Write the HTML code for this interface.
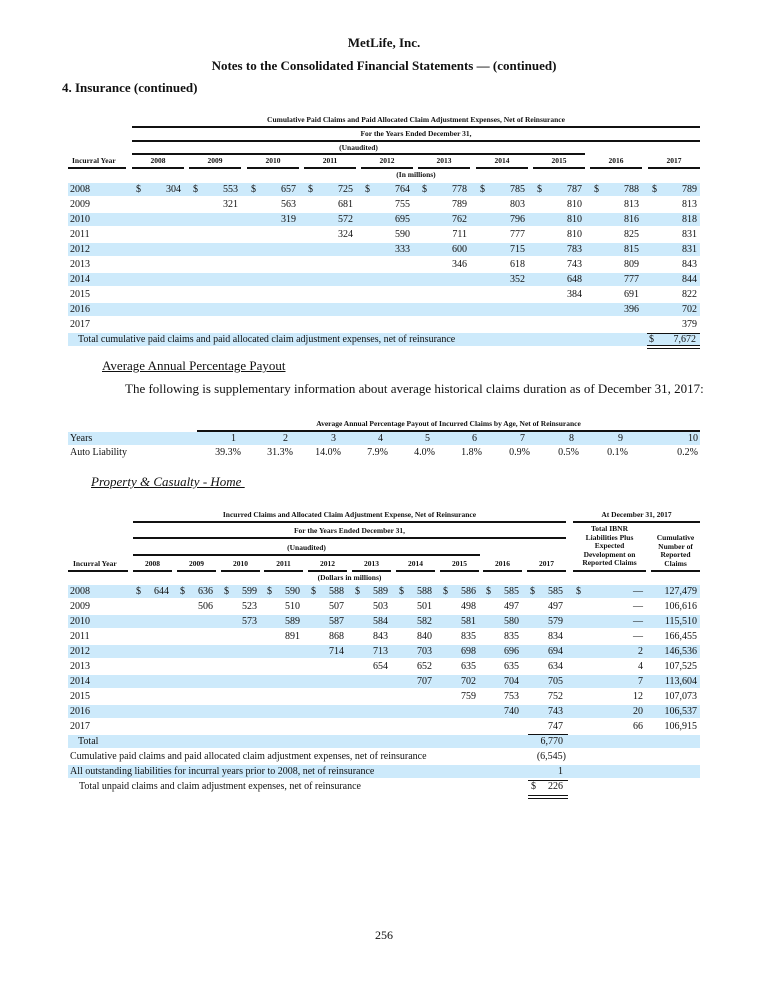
<!DOCTYPE html>
<html><head><meta charset="utf-8">
<style>
body{margin:0;background:#fff;}
#p{position:relative;width:768px;height:993px;overflow:hidden;font-family:"Liberation Serif",serif;color:#111;}
#p div{position:absolute;white-space:nowrap;}
.t{font-size:10px;line-height:14px;height:14px;}
.r{font-size:10px;line-height:14px;height:14px;text-align:right;width:60px;}
.h{font-size:7.5px;font-weight:bold;line-height:10px;}
.hc{font-size:7.5px;font-weight:bold;line-height:10px;text-align:center;}
.sh{background:#cdeafb;height:13px;}
.ln{background:#111;height:1.5px;}
.ul{background:#111;height:1px;}
</style></head><body><div id="p">

<div style="left:0;width:768px;text-align:center;top:35px;font-size:13px;font-weight:bold;">MetLife, Inc.</div>
<div style="left:0;width:768px;text-align:center;top:58px;font-size:13px;font-weight:bold;">Notes to the Consolidated Financial Statements — (continued)</div>
<div style="left:62px;top:80px;font-size:13px;font-weight:bold;">4. Insurance (continued)</div>

<!-- TABLE 1 -->
<div class="hc" style="left:132px;width:568px;top:115px;">Cumulative Paid Claims and Paid Allocated Claim Adjustment Expenses, Net of Reinsurance</div>
<div class="ln" style="left:132px;width:568px;top:126px;"></div>
<div class="hc" style="left:132px;width:568px;top:129px;">For the Years Ended December 31,</div>
<div class="ln" style="left:132px;width:568px;top:140px;"></div>
<div class="hc" style="left:132px;width:453px;top:143px;">(Unaudited)</div>
<div class="ln" style="left:132px;width:453px;top:153px;"></div>
<div class="h" style="left:72px;top:156px;">Incurral Year</div>
<div class="ln" style="left:68px;width:58px;top:167px;"></div>
<div class="hc" style="left:132px;width:52px;top:156px;">2008</div><div class="ln" style="left:132px;width:52px;top:167px;"></div>
<div class="hc" style="left:189px;width:52px;top:156px;">2009</div><div class="ln" style="left:189px;width:52px;top:167px;"></div>
<div class="hc" style="left:247px;width:52px;top:156px;">2010</div><div class="ln" style="left:247px;width:52px;top:167px;"></div>
<div class="hc" style="left:304px;width:52px;top:156px;">2011</div><div class="ln" style="left:304px;width:52px;top:167px;"></div>
<div class="hc" style="left:361px;width:52px;top:156px;">2012</div><div class="ln" style="left:361px;width:52px;top:167px;"></div>
<div class="hc" style="left:418px;width:52px;top:156px;">2013</div><div class="ln" style="left:418px;width:52px;top:167px;"></div>
<div class="hc" style="left:476px;width:52px;top:156px;">2014</div><div class="ln" style="left:476px;width:52px;top:167px;"></div>
<div class="hc" style="left:533px;width:52px;top:156px;">2015</div><div class="ln" style="left:533px;width:52px;top:167px;"></div>
<div class="hc" style="left:590px;width:52px;top:156px;">2016</div><div class="ln" style="left:590px;width:52px;top:167px;"></div>
<div class="hc" style="left:648px;width:52px;top:156px;">2017</div><div class="ln" style="left:648px;width:52px;top:167px;"></div>
<div class="hc" style="left:132px;width:568px;top:170px;">(In millions)</div>

<div class="sh" style="left:68px;width:632px;top:183px;"></div>
<div class="sh" style="left:68px;width:632px;top:213px;"></div>
<div class="sh" style="left:68px;width:632px;top:243px;"></div>
<div class="sh" style="left:68px;width:632px;top:273px;"></div>
<div class="sh" style="left:68px;width:632px;top:303px;"></div>
<div class="sh" style="left:68px;width:632px;top:333px;"></div>

<div class="t" style="left:70px;top:183px;">2008</div>
<div class="t" style="left:70px;top:198px;">2009</div>
<div class="t" style="left:70px;top:213px;">2010</div>
<div class="t" style="left:70px;top:228px;">2011</div>
<div class="t" style="left:70px;top:243px;">2012</div>
<div class="t" style="left:70px;top:258px;">2013</div>
<div class="t" style="left:70px;top:273px;">2014</div>
<div class="t" style="left:70px;top:288px;">2015</div>
<div class="t" style="left:70px;top:303px;">2016</div>
<div class="t" style="left:70px;top:318px;">2017</div>

<!-- row 2008 -->
<div class="t" style="left:136px;top:183px;">$</div><div class="r" style="left:121px;top:183px;">304</div>
<div class="t" style="left:193px;top:183px;">$</div><div class="r" style="left:178px;top:183px;">553</div>
<div class="t" style="left:251px;top:183px;">$</div><div class="r" style="left:236px;top:183px;">657</div>
<div class="t" style="left:308px;top:183px;">$</div><div class="r" style="left:293px;top:183px;">725</div>
<div class="t" style="left:365px;top:183px;">$</div><div class="r" style="left:350px;top:183px;">764</div>
<div class="t" style="left:422px;top:183px;">$</div><div class="r" style="left:407px;top:183px;">778</div>
<div class="t" style="left:480px;top:183px;">$</div><div class="r" style="left:465px;top:183px;">785</div>
<div class="t" style="left:537px;top:183px;">$</div><div class="r" style="left:522px;top:183px;">787</div>
<div class="t" style="left:594px;top:183px;">$</div><div class="r" style="left:579px;top:183px;">788</div>
<div class="t" style="left:652px;top:183px;">$</div><div class="r" style="left:637px;top:183px;">789</div>
<!-- 2009 -->
<div class="r" style="left:178px;top:198px;">321</div><div class="r" style="left:236px;top:198px;">563</div><div class="r" style="left:293px;top:198px;">681</div><div class="r" style="left:350px;top:198px;">755</div><div class="r" style="left:407px;top:198px;">789</div><div class="r" style="left:465px;top:198px;">803</div><div class="r" style="left:522px;top:198px;">810</div><div class="r" style="left:579px;top:198px;">813</div><div class="r" style="left:637px;top:198px;">813</div>
<!-- 2010 -->
<div class="r" style="left:236px;top:213px;">319</div><div class="r" style="left:293px;top:213px;">572</div><div class="r" style="left:350px;top:213px;">695</div><div class="r" style="left:407px;top:213px;">762</div><div class="r" style="left:465px;top:213px;">796</div><div class="r" style="left:522px;top:213px;">810</div><div class="r" style="left:579px;top:213px;">816</div><div class="r" style="left:637px;top:213px;">818</div>
<!-- 2011 -->
<div class="r" style="left:293px;top:228px;">324</div><div class="r" style="left:350px;top:228px;">590</div><div class="r" style="left:407px;top:228px;">711</div><div class="r" style="left:465px;top:228px;">777</div><div class="r" style="left:522px;top:228px;">810</div><div class="r" style="left:579px;top:228px;">825</div><div class="r" style="left:637px;top:228px;">831</div>
<!-- 2012 -->
<div class="r" style="left:350px;top:243px;">333</div><div class="r" style="left:407px;top:243px;">600</div><div class="r" style="left:465px;top:243px;">715</div><div class="r" style="left:522px;top:243px;">783</div><div class="r" style="left:579px;top:243px;">815</div><div class="r" style="left:637px;top:243px;">831</div>
<!-- 2013 -->
<div class="r" style="left:407px;top:258px;">346</div><div class="r" style="left:465px;top:258px;">618</div><div class="r" style="left:522px;top:258px;">743</div><div class="r" style="left:579px;top:258px;">809</div><div class="r" style="left:637px;top:258px;">843</div>
<!-- 2014 -->
<div class="r" style="left:465px;top:273px;">352</div><div class="r" style="left:522px;top:273px;">648</div><div class="r" style="left:579px;top:273px;">777</div><div class="r" style="left:637px;top:273px;">844</div>
<!-- 2015 -->
<div class="r" style="left:522px;top:288px;">384</div><div class="r" style="left:579px;top:288px;">691</div><div class="r" style="left:637px;top:288px;">822</div>
<!-- 2016 -->
<div class="r" style="left:579px;top:303px;">396</div><div class="r" style="left:637px;top:303px;">702</div>
<!-- 2017 -->
<div class="r" style="left:637px;top:318px;">379</div>

<div class="t" style="left:78px;top:333px;">Total cumulative paid claims and paid allocated claim adjustment expenses, net of reinsurance</div>
<div class="ul" style="left:647px;width:53px;top:333px;"></div>
<div class="t" style="left:649px;top:333px;">$</div><div class="r" style="left:636px;top:333px;">7,672</div>
<div class="ul" style="left:647px;width:53px;top:345px;"></div>
<div class="ul" style="left:647px;width:53px;top:348px;"></div>

<div style="left:102px;top:358px;font-size:13px;line-height:15px;text-decoration:underline;">Average Annual Percentage Payout</div>
<div style="left:125px;top:381px;font-size:13px;line-height:15px;">The following is supplementary information about average historical claims duration as of December 31, 2017:</div>

<!-- TABLE 2 -->
<div class="hc" style="left:197px;width:503px;top:419px;">Average Annual Percentage Payout of Incurred Claims by Age, Net of Reinsurance</div>
<div class="ln" style="left:197px;width:503px;top:430px;"></div>
<div class="sh" style="left:68px;width:632px;top:432px;"></div>
<div class="t" style="left:70px;top:432px;">Years</div>
<div class="t" style="left:70px;top:446px;">Auto Liability</div>
<div class="r" style="left:176px;top:432px;">1</div><div class="r" style="left:181px;top:446px;">39.3%</div>
<div class="r" style="left:228px;top:432px;">2</div><div class="r" style="left:233px;top:446px;">31.3%</div>
<div class="r" style="left:276px;top:432px;">3</div><div class="r" style="left:281px;top:446px;">14.0%</div>
<div class="r" style="left:323px;top:432px;">4</div><div class="r" style="left:328px;top:446px;">7.9%</div>
<div class="r" style="left:370px;top:432px;">5</div><div class="r" style="left:375px;top:446px;">4.0%</div>
<div class="r" style="left:417px;top:432px;">6</div><div class="r" style="left:422px;top:446px;">1.8%</div>
<div class="r" style="left:465px;top:432px;">7</div><div class="r" style="left:470px;top:446px;">0.9%</div>
<div class="r" style="left:514px;top:432px;">8</div><div class="r" style="left:519px;top:446px;">0.5%</div>
<div class="r" style="left:563px;top:432px;">9</div><div class="r" style="left:568px;top:446px;">0.1%</div>
<div class="r" style="left:638px;top:432px;">10</div><div class="r" style="left:638px;top:446px;">0.2%</div>

<div style="left:91px;top:474px;font-size:13px;line-height:15px;font-style:italic;text-decoration:underline;">Property &amp; Casualty - Home&nbsp;</div>

<!-- TABLE 3 -->
<div class="hc" style="left:133px;width:433px;top:510px;">Incurred Claims and Allocated Claim Adjustment Expense, Net of Reinsurance</div>
<div class="hc" style="left:573px;width:127px;top:510px;">At December 31, 2017</div>
<div class="ln" style="left:133px;width:433px;top:521px;"></div>
<div class="ln" style="left:573px;width:127px;top:521px;"></div>
<div class="hc" style="left:133px;width:433px;top:526px;">For the Years Ended December 31,</div>
<div class="ln" style="left:133px;width:433px;top:537px;"></div>
<div class="hc" style="left:133px;width:347px;top:543px;">(Unaudited)</div>
<div class="ln" style="left:133px;width:347px;top:554px;"></div>
<div class="hc" style="left:573px;width:73px;top:525px;line-height:8.6px;">Total IBNR<br>Liabilities Plus<br>Expected<br>Development on<br>Reported Claims</div>
<div class="hc" style="left:651px;width:49px;top:534px;line-height:8.6px;">Cumulative<br>Number of<br>Reported<br>Claims</div>
<div class="h" style="left:73px;top:559px;">Incurral Year</div>
<div class="ln" style="left:68px;width:60px;top:570px;"></div>
<div class="hc" style="left:133px;width:39px;top:559px;">2008</div><div class="ln" style="left:133px;width:39px;top:570px;"></div>
<div class="hc" style="left:177px;width:39px;top:559px;">2009</div><div class="ln" style="left:177px;width:39px;top:570px;"></div>
<div class="hc" style="left:221px;width:39px;top:559px;">2010</div><div class="ln" style="left:221px;width:39px;top:570px;"></div>
<div class="hc" style="left:264px;width:39px;top:559px;">2011</div><div class="ln" style="left:264px;width:39px;top:570px;"></div>
<div class="hc" style="left:308px;width:39px;top:559px;">2012</div><div class="ln" style="left:308px;width:39px;top:570px;"></div>
<div class="hc" style="left:352px;width:39px;top:559px;">2013</div><div class="ln" style="left:352px;width:39px;top:570px;"></div>
<div class="hc" style="left:396px;width:39px;top:559px;">2014</div><div class="ln" style="left:396px;width:39px;top:570px;"></div>
<div class="hc" style="left:440px;width:39px;top:559px;">2015</div><div class="ln" style="left:440px;width:39px;top:570px;"></div>
<div class="hc" style="left:483px;width:39px;top:559px;">2016</div><div class="ln" style="left:483px;width:39px;top:570px;"></div>
<div class="hc" style="left:527px;width:39px;top:559px;">2017</div><div class="ln" style="left:527px;width:39px;top:570px;"></div>
<div class="ln" style="left:573px;width:73px;top:570px;"></div>
<div class="ln" style="left:651px;width:49px;top:570px;"></div>
<div class="hc" style="left:133px;width:433px;top:573px;">(Dollars in millions)</div>

<div class="sh" style="left:68px;width:632px;top:585px;"></div>
<div class="sh" style="left:68px;width:632px;top:615px;"></div>
<div class="sh" style="left:68px;width:632px;top:645px;"></div>
<div class="sh" style="left:68px;width:632px;top:675px;"></div>
<div class="sh" style="left:68px;width:632px;top:705px;"></div>
<div class="sh" style="left:68px;width:632px;top:735px;"></div>
<div class="sh" style="left:68px;width:632px;top:765px;"></div>

<div class="t" style="left:70px;top:585px;">2008</div>
<div class="t" style="left:70px;top:600px;">2009</div>
<div class="t" style="left:70px;top:615px;">2010</div>
<div class="t" style="left:70px;top:630px;">2011</div>
<div class="t" style="left:70px;top:645px;">2012</div>
<div class="t" style="left:70px;top:660px;">2013</div>
<div class="t" style="left:70px;top:675px;">2014</div>
<div class="t" style="left:70px;top:690px;">2015</div>
<div class="t" style="left:70px;top:705px;">2016</div>
<div class="t" style="left:70px;top:720px;">2017</div>

<!-- 2008 -->
<div class="t" style="left:136px;top:585px;">$</div><div class="r" style="left:109px;top:585px;">644</div>
<div class="t" style="left:180px;top:585px;">$</div><div class="r" style="left:153px;top:585px;">636</div>
<div class="t" style="left:224px;top:585px;">$</div><div class="r" style="left:197px;top:585px;">599</div>
<div class="t" style="left:267px;top:585px;">$</div><div class="r" style="left:240px;top:585px;">590</div>
<div class="t" style="left:311px;top:585px;">$</div><div class="r" style="left:284px;top:585px;">588</div>
<div class="t" style="left:355px;top:585px;">$</div><div class="r" style="left:328px;top:585px;">589</div>
<div class="t" style="left:399px;top:585px;">$</div><div class="r" style="left:372px;top:585px;">588</div>
<div class="t" style="left:443px;top:585px;">$</div><div class="r" style="left:416px;top:585px;">586</div>
<div class="t" style="left:486px;top:585px;">$</div><div class="r" style="left:459px;top:585px;">585</div>
<div class="t" style="left:530px;top:585px;">$</div><div class="r" style="left:503px;top:585px;">585</div>
<div class="t" style="left:576px;top:585px;">$</div><div class="r" style="left:583px;top:585px;">—</div><div class="r" style="left:637px;top:585px;">127,479</div>
<!-- 2009 -->
<div class="r" style="left:153px;top:600px;">506</div><div class="r" style="left:197px;top:600px;">523</div><div class="r" style="left:240px;top:600px;">510</div><div class="r" style="left:284px;top:600px;">507</div><div class="r" style="left:328px;top:600px;">503</div><div class="r" style="left:372px;top:600px;">501</div><div class="r" style="left:416px;top:600px;">498</div><div class="r" style="left:459px;top:600px;">497</div><div class="r" style="left:503px;top:600px;">497</div><div class="r" style="left:583px;top:600px;">—</div><div class="r" style="left:637px;top:600px;">106,616</div>
<!-- 2010 -->
<div class="r" style="left:197px;top:615px;">573</div><div class="r" style="left:240px;top:615px;">589</div><div class="r" style="left:284px;top:615px;">587</div><div class="r" style="left:328px;top:615px;">584</div><div class="r" style="left:372px;top:615px;">582</div><div class="r" style="left:416px;top:615px;">581</div><div class="r" style="left:459px;top:615px;">580</div><div class="r" style="left:503px;top:615px;">579</div><div class="r" style="left:583px;top:615px;">—</div><div class="r" style="left:637px;top:615px;">115,510</div>
<!-- 2011 -->
<div class="r" style="left:240px;top:630px;">891</div><div class="r" style="left:284px;top:630px;">868</div><div class="r" style="left:328px;top:630px;">843</div><div class="r" style="left:372px;top:630px;">840</div><div class="r" style="left:416px;top:630px;">835</div><div class="r" style="left:459px;top:630px;">835</div><div class="r" style="left:503px;top:630px;">834</div><div class="r" style="left:583px;top:630px;">—</div><div class="r" style="left:637px;top:630px;">166,455</div>
<!-- 2012 -->
<div class="r" style="left:284px;top:645px;">714</div><div class="r" style="left:328px;top:645px;">713</div><div class="r" style="left:372px;top:645px;">703</div><div class="r" style="left:416px;top:645px;">698</div><div class="r" style="left:459px;top:645px;">696</div><div class="r" style="left:503px;top:645px;">694</div><div class="r" style="left:583px;top:645px;">2</div><div class="r" style="left:637px;top:645px;">146,536</div>
<!-- 2013 -->
<div class="r" style="left:328px;top:660px;">654</div><div class="r" style="left:372px;top:660px;">652</div><div class="r" style="left:416px;top:660px;">635</div><div class="r" style="left:459px;top:660px;">635</div><div class="r" style="left:503px;top:660px;">634</div><div class="r" style="left:583px;top:660px;">4</div><div class="r" style="left:637px;top:660px;">107,525</div>
<!-- 2014 -->
<div class="r" style="left:372px;top:675px;">707</div><div class="r" style="left:416px;top:675px;">702</div><div class="r" style="left:459px;top:675px;">704</div><div class="r" style="left:503px;top:675px;">705</div><div class="r" style="left:583px;top:675px;">7</div><div class="r" style="left:637px;top:675px;">113,604</div>
<!-- 2015 -->
<div class="r" style="left:416px;top:690px;">759</div><div class="r" style="left:459px;top:690px;">753</div><div class="r" style="left:503px;top:690px;">752</div><div class="r" style="left:583px;top:690px;">12</div><div class="r" style="left:637px;top:690px;">107,073</div>
<!-- 2016 -->
<div class="r" style="left:459px;top:705px;">740</div><div class="r" style="left:503px;top:705px;">743</div><div class="r" style="left:583px;top:705px;">20</div><div class="r" style="left:637px;top:705px;">106,537</div>
<!-- 2017 -->
<div class="r" style="left:503px;top:720px;">747</div><div class="r" style="left:583px;top:720px;">66</div><div class="r" style="left:637px;top:720px;">106,915</div>

<div class="ul" style="left:528px;width:40px;top:734px;"></div>
<div class="t" style="left:78px;top:735px;">Total</div><div class="r" style="left:503px;top:735px;">6,770</div>
<div class="t" style="left:70px;top:750px;">Cumulative paid claims and paid allocated claim adjustment expenses, net of reinsurance</div><div class="r" style="left:506px;top:750px;">(6,545)</div>
<div class="t" style="left:70px;top:765px;">All outstanding liabilities for incurral years prior to 2008, net of reinsurance</div><div class="r" style="left:503px;top:765px;">1</div>
<div class="ul" style="left:528px;width:40px;top:780px;"></div>
<div class="t" style="left:79px;top:780px;">Total unpaid claims and claim adjustment expenses, net of reinsurance</div>
<div class="t" style="left:531px;top:780px;">$</div><div class="r" style="left:503px;top:780px;">226</div>
<div class="ul" style="left:528px;width:40px;top:795px;"></div>
<div class="ul" style="left:528px;width:40px;top:798px;"></div>

<div style="left:0;width:768px;text-align:center;top:928px;font-size:12px;line-height:14px;">256</div>
</div></body></html>
